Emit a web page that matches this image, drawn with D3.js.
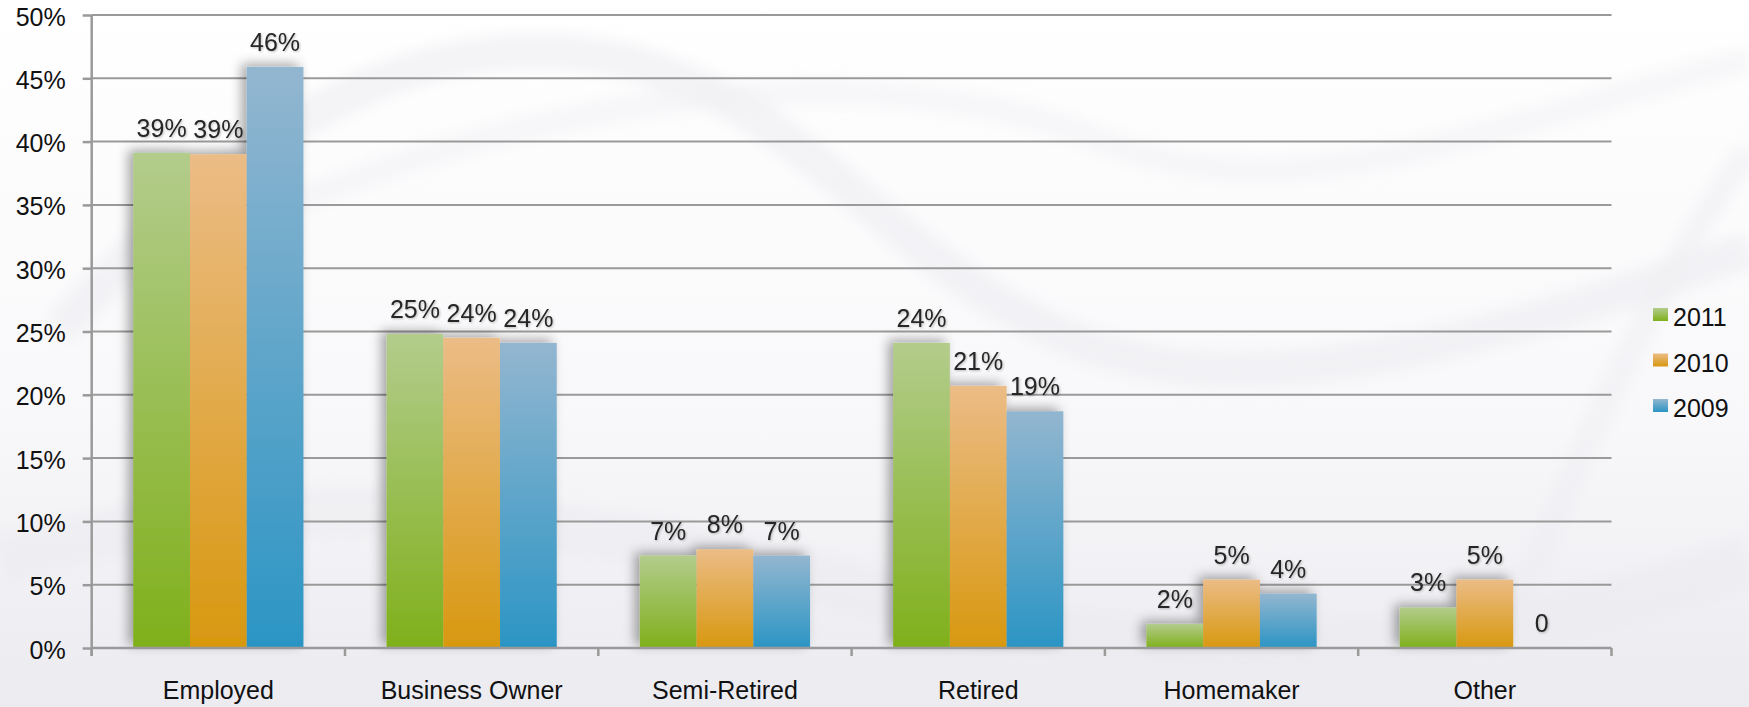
<!DOCTYPE html>
<html>
<head>
<meta charset="utf-8">
<script src="https://cdn.jsdelivr.net/npm/d3@7"></script>
<style>
  html, body { margin: 0; padding: 0; background: #ffffff; }
  svg { display: block; font-family: "Liberation Sans", Arial, sans-serif; }
</style>
</head>
<body>
<svg id="chart" width="1749" height="707"></svg>
<script>
const categories = ["Employed", "Business Owner", "Semi-Retired", "Retired", "Homemaker", "Other"];
const seriesNames = ["2011", "2010", "2009"];
const values2011 = [39.1, 24.8, 7.3, 24.1, 1.9, 3.2];
const values2010 = [39.0, 24.5, 7.8, 20.7, 5.4, 5.4];
const values2009 = [45.9, 24.1, 7.3, 18.7, 4.3, 0];
const labels2011 = ["39%", "25%", "7%", "24%", "2%", "3%"];
const labels2010 = ["39%", "24%", "8%", "21%", "5%", "5%"];
const labels2009 = ["46%", "24%", "7%", "19%", "4%", "0"];
const yTickValues = [0, 5, 10, 15, 20, 25, 30, 35, 40, 45, 50];
const yTickLabels = ["0%", "5%", "10%", "15%", "20%", "25%", "30%", "35%", "40%", "45%", "50%"];

const seriesValues = [values2011, values2010, values2009];
const seriesLabels = [labels2011, labels2010, labels2009];
const colorsTop = ["#b3cc8c", "#ebbc86", "#93b6d0"];
const colorsBottom = ["#7fb01b", "#d8980f", "#2b95c4"];

const svg = d3.select("#chart");
const W = 1749, H = 707;
const plotLeft = 91.7, plotRight = 1611.5, yBase = 648, yTop = 15;
const FS = 25;

const defs = svg.append("defs");

// background
const bg = defs.append("linearGradient").attr("id", "bg").attr("x1", 0).attr("y1", 0).attr("x2", 0).attr("y2", 1);
bg.append("stop").attr("offset", "0").attr("stop-color", "#ffffff");
bg.append("stop").attr("offset", "0.6").attr("stop-color", "#f8f8fa");
bg.append("stop").attr("offset", "1").attr("stop-color", "#ebebf0");
svg.append("rect").attr("width", W).attr("height", H).attr("fill", "url(#bg)");

const blur = defs.append("filter").attr("id", "blur").attr("x", "-20%").attr("y", "-20%").attr("width", "140%").attr("height", "140%");
blur.append("feGaussianBlur").attr("stdDeviation", 7);

// decorative swooshes
const swoosh = svg.append("g").attr("filter", "url(#blur)").attr("fill", "none");
swoosh.append("path")
  .attr("d", "M 60 330 C 250 120, 420 20, 620 60 C 800 100, 880 250, 1050 330 C 1200 400, 1380 380, 1749 250")
  .attr("stroke", "#ededf1").attr("stroke-width", 36).attr("opacity", 0.6);
swoosh.append("path")
  .attr("d", "M 300 200 C 600 80, 900 60, 1100 140 C 1300 220, 1500 120, 1749 60")
  .attr("stroke", "#f0f0f3").attr("stroke-width", 26).attr("opacity", 0.5);
swoosh.append("path")
  .attr("d", "M 0 560 C 300 470, 600 520, 900 600 C 1200 680, 1500 650, 1749 560")
  .attr("stroke", "#e8e8ed").attr("stroke-width", 50).attr("opacity", 0.4);
swoosh.append("path")
  .attr("d", "M 1480 700 C 1560 500, 1640 300, 1749 150")
  .attr("stroke", "#ededf1").attr("stroke-width", 26).attr("opacity", 0.5);

// scales
const y = d3.scaleLinear().domain([0, 50]).range([yBase, yTop]);
const pad = 0.328;
const x0 = d3.scaleBand().domain(categories).range([plotLeft, plotRight]).paddingInner(pad).paddingOuter(pad / 2);
const x1 = d3.scaleBand().domain(seriesNames).range([0, x0.bandwidth()]).padding(0);

// gradients for bars
seriesNames.forEach((s, i) => {
  const g = defs.append("linearGradient").attr("id", "grad" + i).attr("x1", 0).attr("y1", 0).attr("x2", 0).attr("y2", 1);
  g.append("stop").attr("offset", "0").attr("stop-color", colorsTop[i]);
  g.append("stop").attr("offset", "1").attr("stop-color", colorsBottom[i]);
});

const shadow = defs.append("filter").attr("id", "shadow").attr("x", "-30%").attr("y", "-30%").attr("width", "160%").attr("height", "160%");
shadow.append("feDropShadow").attr("dx", -5).attr("dy", -3).attr("stdDeviation", 6)
  .attr("flood-color", "#000").attr("flood-opacity", 0.35);

const txtShadow = defs.append("filter").attr("id", "tshadow").attr("x", "-10%").attr("y", "-10%").attr("width", "130%").attr("height", "140%");
txtShadow.append("feDropShadow").attr("dx", 1).attr("dy", 1).attr("stdDeviation", 1)
  .attr("flood-color", "#000").attr("flood-opacity", 0.25);

// gridlines
const grid = svg.append("g");
grid.selectAll("line").data(yTickValues.filter(d => d > 0)).join("line")
  .attr("x1", plotLeft).attr("x2", plotRight)
  .attr("y1", d => y(d)).attr("y2", d => y(d))
  .attr("stroke", "#9a9a9a").attr("stroke-width", 2);

// bars
const groups = svg.append("g").selectAll("g").data(categories).join("g")
  .attr("transform", d => `translate(${x0(d)},0)`);

groups.append("g").attr("filter", "url(#shadow)")
  .selectAll("rect")
  .data((c, ci) => seriesNames.map((s, si) => ({ s, si, v: seriesValues[si][ci] })))
  .join("rect")
  .attr("x", d => x1(d.s))
  .attr("y", d => y(d.v))
  .attr("width", x1.bandwidth())
  .attr("height", d => yBase - y(d.v))
  .attr("fill", d => `url(#grad${d.si})`);

// data labels
groups.selectAll("text.lbl")
  .data((c, ci) => seriesNames.map((s, si) => ({ s, si, v: seriesValues[si][ci], t: seriesLabels[si][ci] })))
  .join("text")
  .attr("class", "lbl")
  .attr("x", d => x1(d.s) + x1.bandwidth() / 2)
  .attr("y", d => y(d.v) - 16)
  .attr("text-anchor", "middle")
  .attr("font-size", FS)
  .attr("fill", "#262626")
  .attr("filter", "url(#tshadow)")
  .text(d => d.t);

// y axis
const yAxisG = svg.append("g").attr("transform", `translate(${plotLeft},0)`)
  .call(d3.axisLeft(y).tickValues(yTickValues).tickSize(9).tickPadding(17)
    .tickFormat((d, i) => yTickLabels[i]));
yAxisG.select(".domain").attr("stroke", "#9a9a9a").attr("stroke-width", 2.5)
  .attr("d", `M0,${yTop}V${yBase + 8}`);
yAxisG.selectAll(".tick line").attr("stroke", "#9a9a9a").attr("stroke-width", 2.5);
yAxisG.selectAll(".tick text").attr("font-size", FS).attr("fill", "#111")
  .attr("font-family", "'Liberation Sans', Arial, sans-serif").attr("dy", "0.4em");

// x axis baseline and ticks
const xAxisG = svg.append("g");
xAxisG.append("line").attr("x1", plotLeft).attr("x2", plotRight).attr("y1", yBase).attr("y2", yBase)
  .attr("stroke", "#9a9a9a").attr("stroke-width", 2.5);
const boundaries = categories.map(c => x0(c) - x0.step() * pad / 2).concat([plotRight]);
xAxisG.selectAll("line.tk").data(boundaries).join("line").attr("class", "tk")
  .attr("x1", d => d).attr("x2", d => d).attr("y1", yBase).attr("y2", yBase + 8)
  .attr("stroke", "#9a9a9a").attr("stroke-width", 2.5);
xAxisG.selectAll("text").data(categories).join("text")
  .attr("x", d => x0(d) + x0.bandwidth() / 2)
  .attr("y", 699)
  .attr("text-anchor", "middle")
  .attr("font-size", FS)
  .attr("fill", "#111")
  .text(d => d);

// legend
const legend = svg.append("g").selectAll("g").data(seriesNames).join("g")
  .attr("transform", (d, i) => `translate(1653,${308 + i * 45.5})`);
legend.append("rect").attr("width", 15).attr("height", 13)
  .attr("fill", (d, i) => `url(#grad${i})`);
legend.append("text").attr("x", 20).attr("y", 18)
  .attr("font-size", FS).attr("fill", "#111").text(d => d);
</script>
</body>
</html>
